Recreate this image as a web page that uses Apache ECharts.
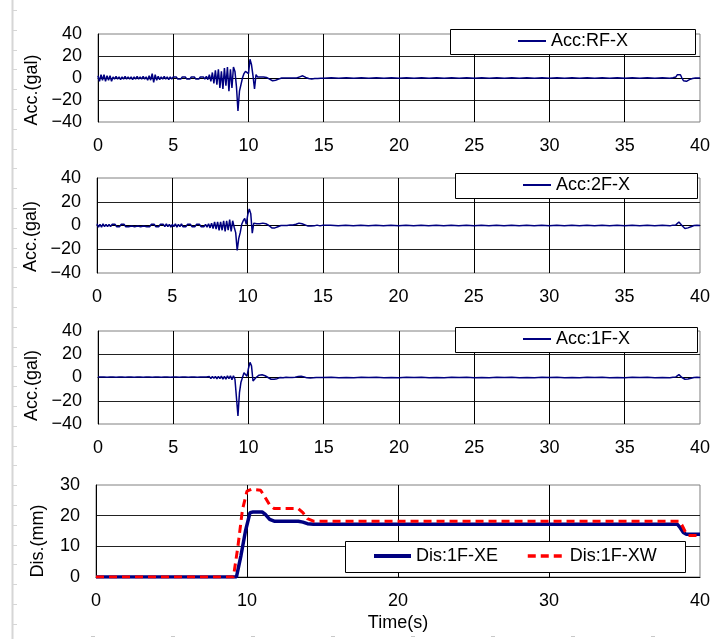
<!DOCTYPE html>
<html>
<head>
<meta charset="utf-8">
<script src="https://cdn.jsdelivr.net/npm/echarts@6/dist/echarts.min.js"></script>
<style>
html,body{margin:0;padding:0;background:#fff;}
#chart{width:713px;height:639px;}
</style>
</head>
<body>
<div id="chart"></div>
<script>
// ---------- DATA ----------
const accTime = [
0,0.1,0.2,0.3,0.4,0.5,0.6,0.7,0.8,0.9,
1,1.1,1.2,1.3,1.4,1.5,1.6,1.7,1.8,1.9,
2,2.1,2.2,2.3,2.4,2.5,2.6,2.7,2.8,2.9,
3,3.1,3.2,3.3,3.4,3.5,3.6,3.7,3.8,3.9,
4,4.1,4.2,4.3,4.4,4.5,4.6,4.7,4.8,4.9,
5,5.1,5.2,5.3,5.4,5.5,5.6,5.7,5.8,5.9,
6,6.1,6.2,6.3,6.4,6.5,6.6,6.7,6.8,6.9,
7,7.1,7.2,7.3,7.4,7.5,7.6,7.7,7.8,7.9,
8,8.1,8.2,8.3,8.4,8.5,8.6,8.7,8.8,8.9,
9,9.1,9.2,9.3,9.4,9.5,9.6,9.7,9.8,9.9,
10,10.1,10.2,10.3,10.4,10.5,10.6,10.7,10.8,10.9,
11,11.1,11.2,11.3,11.4,11.5,11.6,11.7,11.8,11.9,
12,12.1,12.2,12.3,12.4,12.5,12.6,12.7,12.8,12.9,
13,13.1,13.2,13.3,13.4,13.5,13.6,13.7,13.8,13.9,
14,14.1,14.2,14.3,14.4,14.5,14.6,14.7,14.8,14.9,
15,
15.5,16,16.5,17,17.5,18,18.5,19,19.5,20,
20.5,21,21.5,22,22.5,23,23.5,24,24.5,25,
25.5,26,26.5,27,27.5,28,28.5,29,29.5,30,
30.5,31,31.5,32,32.5,33,33.5,34,34.5,35,
35.5,36,36.5,37,37.5,38,
38.1,38.2,38.3,38.4,38.5,38.6,38.7,38.8,38.9,39,
39.1,39.2,39.3,39.4,39.5,39.6,39.7,39.8,39.9,40
];

const accRF = [
2,-3,3,-2,3,-3,2,-2,2,-3,1,
-1,1.5,-1,1,-1.5,1,-1,1.5,-1,1,
-1,1,-1.5,1,-1,1.5,-1,1,-1,1.5,
-1,1,-2,2,-2,4,-4,3,-2,1.5,
-1.5,1,-1,1.5,-1,1,-1.5,1,-1,1,
-0.5,1,-1,0.5,-1,1,-0.5,1,-1,0.5,
-1,1,-0.5,1,-1,0.5,-1,1,-0.5,1,
-1,1.5,-1.5,3,-3,5,-5,7,-6,8,
-9,6,-10,9,-7,10,-12,8,-9,10,
6,-8,-30,-12,-6,0,4,6,7,4,
17,12,2,-10,3,1,2,1,2,1,
1,0.5,0,-1,-2,-2.5,-2.5,-2,-1.5,-1,
-0.5,0,-0.5,0,0.5,0,-0.5,0,0.5,0,
0.5,0,0.5,1,1.5,2,1.5,0.5,0,-0.5,
-0.5,-1,-0.5,-0.5,0,-0.5,0,-0.3,0,-0.3,
0.3,-0.3,0.2,-0.3,0.3,-0.2,0.3,-0.3,0.2,-0.3,
0.3,-0.2,0.3,-0.3,0.2,-0.3,0.3,-0.2,0.3,-0.3,
0.2,-0.3,0.3,-0.2,0.3,-0.3,0.2,-0.3,0.3,-0.2,
0.3,-0.3,0.2,-0.3,0.3,-0.2,0.3,-0.3,0.2,-0.3,
0.3,-0.2,0.3,-0.3,0.2,-0.3,
0,0.3,0,1,3,4.5,3,0,-2.5,-3.5,
-3,-2,-1.5,-1,-0.5,0,0,0.3,0,0
];

const acc2F = [
1.5,-1.5,1,-1.5,1.5,-1,1,-1,1,-1,1,
-0.5,1,-1,0.5,-1,1,-0.5,1,-1,0.5,
-1,0.5,-0.5,1,-1,0.5,-0.5,1,-1,0.5,
-0.5,1,-1,0.5,-1,1,-0.5,1,-1,0.5,
-1,1,-0.5,1,-1,1.5,-1,1,-1.5,1,
-1,1.5,-1.5,1,-1,1.5,-1,0.5,-1,1,
-0.5,1,-1,0.5,-1,1,-0.5,1,-1,0.5,
-1,1,-1.5,1.5,-2,2,-2.5,3,-3,3,
-4,3,-4,4,-5,4,-4,5,-5,4,
-1.5,-6,-21,-11,-6,1,4,6,1,9,
14,10,-6.5,2,1,1.5,1,1.5,2,2,
2,1.5,1,0,-1,-2,-2,-2,-1.5,-1,
-0.5,0,-0.5,0,0.5,0,0,0.5,0,0.5,
0.5,1,1.5,2,2,1.5,1,0.5,0,-0.5,
-0.5,-0.5,0,-0.3,0,0.3,0,-0.3,0,0.3,
0.3,-0.3,0.2,-0.3,0.3,-0.2,0.3,-0.3,0.2,-0.3,
0.3,-0.2,0.3,-0.3,0.2,-0.3,0.3,-0.2,0.3,-0.3,
0.2,-0.3,0.3,-0.2,0.3,-0.3,0.2,-0.3,0.3,-0.2,
0.3,-0.3,0.2,-0.3,0.3,-0.2,0.3,-0.3,0.2,-0.3,
0.3,-0.2,0.3,-0.3,0.2,-0.3,
0,0.3,0,0.5,2,3,2,0,-1.5,-2.5,
-2.5,-2,-1.5,-1,-0.5,0,0,0.3,0,0
];

const acc1F = [
0.5,-0.5,0.5,-0.3,0.5,-0.5,0.3,-0.5,0.5,-0.3,0.5,
-0.5,0.3,-0.5,0.5,-0.3,0.5,-0.5,0.3,-0.5,0.5,
-0.3,0.5,-0.5,0.3,-0.5,0.5,-0.3,0.5,-0.5,0.3,
-0.5,0.5,-0.3,0.5,-0.5,0.3,-0.5,0.5,-0.3,0.5,
-0.5,0.3,-0.5,0.5,-0.3,0.5,-0.5,0.3,-0.5,0.5,
-0.3,0.5,-0.5,0.3,-0.5,0.5,-0.3,0.5,-0.5,0.3,
-0.5,0.5,-0.3,0.5,-0.5,0.3,-0.5,0.5,-0.3,0.5,
-0.5,0.5,-0.8,0.8,-1,1,-0.8,1,-1.2,1,
-1,1.2,-1.5,1,-1.5,1.5,-1,1.5,-2,1.5,
-1.5,-3,-33,-13,-4,0,4,5.5,1,8,
13,10,-3,-1.5,0,1.5,2,2,2.3,2.3,
1.5,0.5,0,-1,-1.5,-1.5,-1.5,-1.5,-1,-0.5,
0,0,-0.3,0,0.3,0,0,0.3,0,0.3,
0.3,0.5,0.8,1,1,0.8,0.5,0,-0.3,-0.5,
-0.5,-0.5,-0.3,0,0,0.2,0,-0.2,0,0.2,
0.2,-0.2,0.1,-0.2,0.2,-0.1,0.2,-0.2,0.1,-0.2,
0.2,-0.1,0.2,-0.2,0.1,-0.2,0.2,-0.1,0.2,-0.2,
0.1,-0.2,0.2,-0.1,0.2,-0.2,0.1,-0.2,0.2,-0.1,
0.2,-0.2,0.1,-0.2,0.2,-0.1,0.2,-0.2,0.1,-0.2,
0.2,-0.1,0.2,-0.2,0.1,-0.2,
0,0.2,0,0.5,1.5,2.5,1.5,0,-1,-1.5,
-1.5,-1.2,-1,-0.7,-0.4,0,0,0.2,0,0
];

const disTimeE = [0,9.3,9.6,9.9,10.2,10.4,11.0,11.2,11.5,11.8,13.4,13.7,14.0,14.4,38.5,38.7,38.9,39.1,40];
const disE     = [0,0,7,15,21,21.2,21.2,20.5,18.8,18.2,18.2,17.9,17.4,17.2,17.2,16,14.5,13.9,13.9];
const disTimeW = [0,9.1,9.4,9.7,10.0,10.3,10.9,11.2,11.5,11.8,13.4,13.7,14.0,14.4,38.6,38.8,39.0,39.2,40];
const disW     = [0,0,10,22,28,28.6,28.3,26,23.5,22.3,22.3,21,19,18.2,18.2,17,15,13.5,13.5];

const accNames = ['Acc:RF-X','Acc:2F-X','Acc:1F-X'];
const disNames = ['Dis:1F-XE','Dis:1F-XW'];
const accTicks = [-40,-20,0,20,40];
const disTicks = [0,10,20,30];
const timeTicksAcc = [0,5,10,15,20,25,30,35,40];
const timeTicksDis = [0,10,20,30,40];
const accAxisName = 'Acc.(gal)';
const disAxisName = 'Dis.(mm)';
const timeAxisName = 'Time(s)';

// ---------- CHART ----------
const FONT = 'Liberation Sans, Arial, sans-serif';
const FS = 18;
const fmt = v => (v < 0 ? '\u2212' + Math.abs(v) : String(v));
const pair = (xs, ys) => xs.map((t, i) => [t, ys[i]]);

const grids = [
  {left:98, top:34, width:605, height:88},
  {left:97, top:178, width:606, height:95},
  {left:98, top:331, width:605, height:93},
  {left:96, top:485, width:608, height:92}
].map(g => Object.assign({show:true, borderColor:'#808080', borderWidth:1, backgroundColor:'transparent'}, g));

function xAx(i, ticks, withName) {
  const a = {
    gridIndex:i, type:'value', min:ticks[0], max:ticks[ticks.length-1], interval:ticks[1]-ticks[0],
    axisLine:{show:true, lineStyle:{color:'#000', width:1}},
    axisTick:{show:false},
    axisLabel:{fontSize:FS, color:'#000', margin:15, fontFamily:FONT, formatter:fmt},
    splitLine:{show:true, showMinLine:false, showMaxLine:false, lineStyle:{color:'#000', width:1}}
  };
  if (withName) {
    a.name = timeAxisName; a.nameLocation = 'middle'; a.nameGap = 37;
    a.nameTextStyle = {fontSize:FS, color:'#000', fontFamily:FONT};
  }
  return a;
}
function yAx(i, ticks, name, shift) {
  return {
    gridIndex:i, type:'value', min:ticks[0], max:ticks[ticks.length-1], interval:ticks[1]-ticks[0],
    axisLine:{show:true, lineStyle:{color:'#000', width:1}},
    axisTick:{show:false},
    axisLabel:{fontSize:FS, color:'#000', margin:16, fontFamily:FONT, formatter:fmt},
    splitLine:{show:true, showMinLine:false, showMaxLine:false, lineStyle:{color:'#222', width:1}},
    name:name, nameLocation:'middle', nameGap:49,
    nameTextStyle:{fontSize:FS, color:'#000', fontFamily:FONT, padding:[0, shift, 0, 0]}
  };
}

const accData = [accRF, acc2F, acc1F];
const series = accData.map((vals, i) => ({
  name: accNames[i], type:'line', xAxisIndex:i, yAxisIndex:i,
  data: pair(accTime, vals), symbol:'none', showSymbol:false,
  lineStyle:{color:'#000080', width:1.5}, itemStyle:{color:'#000080'},
  animation:false, z:2
}));
series.push({
  name: disNames[0], type:'line', xAxisIndex:3, yAxisIndex:3,
  data: pair(disTimeE, disE), symbol:'none', showSymbol:false,
  lineStyle:{color:'#000080', width:3.5}, itemStyle:{color:'#000080'}, animation:false, z:3
});
series.push({
  name: disNames[1], type:'line', xAxisIndex:3, yAxisIndex:3,
  data: pair(disTimeW, disW), symbol:'none', showSymbol:false,
  lineStyle:{color:'#ff0000', width:3, type:[8,5]}, itemStyle:{color:'#ff0000'}, animation:false, z:4
});

const legTxt = {fontSize:FS, color:'#000', fontFamily:FONT};
const legends = [
  {data:[accNames[0]], left:517, top:32},
  {data:[accNames[1]], left:522, top:176},
  {data:[accNames[2]], left:522, top:330},
  {data:[{name:disNames[0], lineStyle:{width:4}}, {name:disNames[1], lineStyle:{width:3.5, type:[8,5]}}],
   left:372, top:547, itemWidth:37, itemGap:28}
].map(l => Object.assign({itemWidth:28, itemHeight:14, padding:0, itemGap:10, textStyle:legTxt,
  selectedMode:false, z:20, itemStyle:{opacity:0}}, l));

// decoration (sheet edge and legend frames)
const deco = [];
deco.push({type:'line', shape:{x1:12.5,y1:0,x2:12.5,y2:639}, style:{stroke:'#d6d6d6', lineWidth:2}, z:1});
for (let y = 10; y < 639; y += 19.8) {
  deco.push({type:'line', shape:{x1:13,y1:Math.round(y)+0.5,x2:17,y2:Math.round(y)+0.5}, style:{stroke:'#d6d6d6', lineWidth:1}, z:1});
}
for (let x = 91; x < 713; x += 80) {
  deco.push({type:'line', shape:{x1:x,y1:636.5,x2:x+4,y2:636.5}, style:{stroke:'#c8c8c8', lineWidth:1}, z:1});
}
const frames = [[450.5,29.5,245,25],[455.5,173.5,242,25],[455.5,327.5,242,25],[345.5,541.5,340,31]];
frames.forEach(f => deco.push({type:'rect', shape:{x:f[0],y:f[1],width:f[2],height:f[3]},
  style:{fill:'#fff', stroke:'#000', lineWidth:1}, z:10}));

const chart = echarts.init(document.getElementById('chart'), null, {renderer:'canvas'});
chart.setOption({
  animation:false,
  backgroundColor:'#fff',
  textStyle:{fontFamily:FONT},
  grid: grids,
  xAxis: [xAx(0,timeTicksAcc,false), xAx(1,timeTicksAcc,false), xAx(2,timeTicksAcc,false), xAx(3,timeTicksDis,true)],
  yAxis: [yAx(0,accTicks,accAxisName,24), yAx(1,accTicks,accAxisName,22), yAx(2,accTicks,accAxisName,16), yAx(3,disTicks,disAxisName,20)],
  legend: legends,
  graphic: {elements: deco},
  series: series
});
</script>
</body>
</html>
